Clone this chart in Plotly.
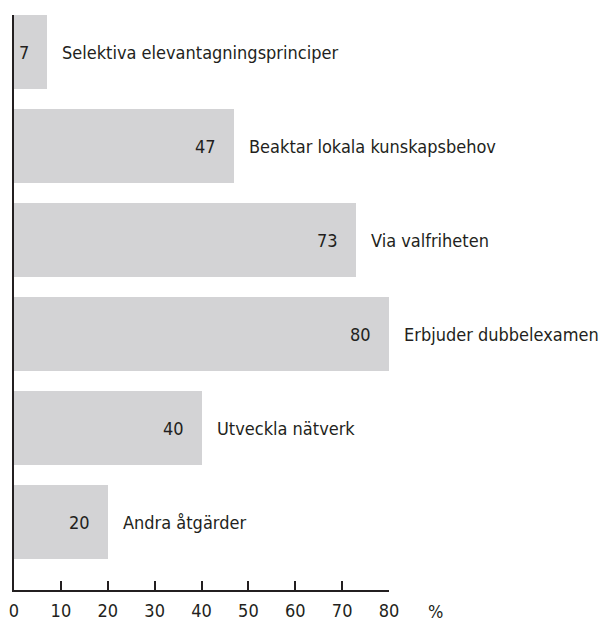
import plotly.graph_objects as go

categories = ['Selektiva elevantagningsprinciper', 'Beaktar lokala kunskapsbehov',
              'Via valfriheten', 'Erbjuder dubbelexamen', 'Utveckla nätverk', 'Andra åtgärder']
values = [7, 47, 73, 80, 40, 20]
tick_vals = [0, 10, 20, 30, 40, 50, 60, 70, 80]

FONT = 'DejaVu Sans Condensed, sans-serif'
INK = '#231f20'

pos = list(range(len(categories)))

fig = go.Figure()
fig.add_trace(go.Bar(x=values, y=pos, orientation='h', width=0.79,
                     marker=dict(color='#d3d3d5', line=dict(width=0)),
                     hoverinfo='skip'))

# value inside the bar end, category label right of the bar
for p, v, c in zip(pos, values, categories):
    fig.add_annotation(x=v, y=p, text=str(v), showarrow=False,
                       xanchor='right', xshift=-16,
                       font=dict(family=FONT, size=18, color=INK))
    fig.add_annotation(x=v, y=p, text=c, showarrow=False,
                       xanchor='left', xshift=13,
                       font=dict(family=FONT, size=18, color=INK))

# unit label to the right of the last tick
fig.add_annotation(x=1.125, xref='paper', y=0, yref='paper', text='%', showarrow=False,
                   xanchor='center', yanchor='top', yshift=-9,
                   font=dict(family=FONT, size=18, color=INK))

fig.update_xaxes(range=[0, 80], tickvals=tick_vals, ticks='inside', ticklen=9,
                 tickwidth=2, tickcolor=INK, showline=True, linewidth=2, linecolor=INK,
                 showgrid=False, zeroline=False, automargin=False, ticklabelstandoff=3,
                 tickfont=dict(family=FONT, size=18, color=INK))
fig.update_yaxes(range=[5.72, -0.395], showline=True, linewidth=2, linecolor=INK,
                 showticklabels=False, ticks='', showgrid=False, zeroline=False,
                 automargin=False)

fig.update_layout(width=599, height=622, margin=dict(l=14, r=210, t=15, b=32),
                  plot_bgcolor='white', paper_bgcolor='white', showlegend=False,
                  bargap=0)

# drop the default page margin so the figure sits at the window's corner
fig.write_html('out.html', config={'displayModeBar': False},
               post_script="document.body.style.margin='0';")
